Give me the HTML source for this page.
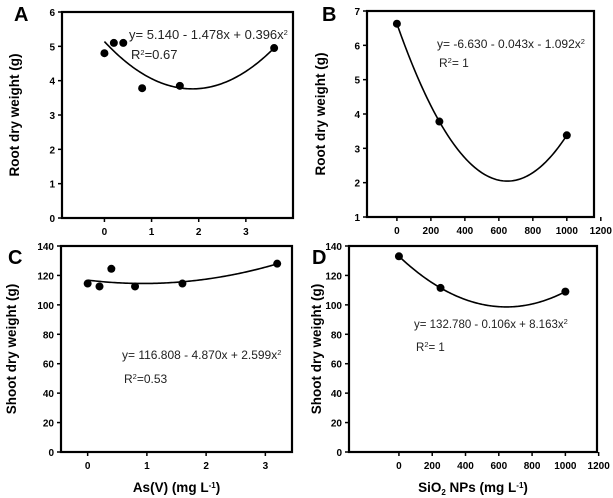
<!DOCTYPE html>
<html><head><meta charset="utf-8"><style>
body{margin:0;background:#fff}
svg{display:block}
text{font-family:"Liberation Sans",Arial,sans-serif;fill:#000}
.tk{font-size:10px;font-weight:bold}
.ttl{font-size:13.5px;font-weight:bold}
.eq{fill:#222}
.let{font-size:20px;font-weight:bold}
</style></head><body>
<svg id="fig" width="613" height="498" viewBox="0 0 613 498"></svg>
<script>
// Panel A data
const aX=[0,0.2,0.4,0.8,1.6,3.6];
const aY=[4.8,5.1,5.1,3.78,3.85,4.95];
const aCoef=[5.140,-1.478,0.396];
const aXTicks=[0,1,2,3];
const aYTicks=[0,1,2,3,4,5,6];
// Panel B data
const bX=[0,250,1000];
const bY=[6.63,3.78,3.38];
const bXTicks=[0,200,400,600,800,1000,1200];
const bYTicks=[1,2,3,4,5,6,7];
// Panel C data
const cX=[0,0.2,0.4,0.8,1.6,3.2];
const cY=[114.5,112.5,124.5,112.5,114.5,128];
const cCoef=[116.808,-4.870,2.599];
const cXTicks=[0,1,2,3];
const cYTicks=[0,20,40,60,80,100,120,140];
// Panel D data
const dX=[0,250,1000];
const dY=[133,111.5,109];
const dXTicks=[0,200,400,600,800,1000,1200];
const dYTicks=[0,20,40,60,80,100,120,140];

const NS="http://www.w3.org/2000/svg";
const svg=document.getElementById('fig');
function mk(tag,attrs,parent){const e=document.createElementNS(NS,tag);for(const k in attrs)e.setAttribute(k,attrs[k]);(parent||svg).appendChild(e);return e;}
function lagr(xs,ys){return x=>{let s=0;for(let i=0;i<xs.length;i++){let p=ys[i];for(let j=0;j<xs.length;j++)if(j!==i)p*=(x-xs[j])/(xs[i]-xs[j]);s+=p;}return s;};}
function poly(c){return x=>c[0]+c[1]*x+c[2]*x*x;}

function panel(o){
  const g=mk('g',{});
  
  
  const sx=v=>o.x0+(v-o.xd[0])/(o.xd[1]-o.xd[0])*(o.x1-o.x0);
  const sy=v=>o.y1-(v-o.yd[0])/(o.yd[1]-o.yd[0])*(o.y1-o.y0);
  const box=mk('rect',{x:o.x0,y:o.y0,width:o.x1-o.x0,height:o.y1-o.y0,fill:'none',stroke:'#000','stroke-width':2.2},g);
  
  
  o.yt.forEach(v=>{const y=sy(v);
    mk('line',{x1:o.x0-4,x2:o.x0,y1:y,y2:y,stroke:'#000','stroke-width':1.5},g);
    const t=mk('text',{x:o.x0-7,y:y+4,'text-anchor':'end',class:'tk'},g);t.textContent=v;
    
    });
  o.xt.forEach(v=>{const x=sx(v);
    mk('line',{x1:x,x2:x,y1:o.y1,y2:o.y1+4,stroke:'#000','stroke-width':1.5},g);
    const t=mk('text',{x:x,y:o.y1+17,'text-anchor':'middle',class:'tk'},g);t.textContent=v;
    
    });
  let d='';const a=o.cx[0],b=o.cx[1];
  for(let i=0;i<=120;i++){const x=a+(b-a)*i/120;d+=(i?'L':'M')+sx(x).toFixed(2)+','+sy(o.f(x)).toFixed(2);}
  const p=mk('path',{d:d,fill:'none',stroke:'#000','stroke-width':1.6},g);
  
  
  o.px.forEach((v,i)=>{const c=mk('circle',{cx:sx(v),cy:sy(o.py[i]),r:4,fill:'#000'},g);
    
    });
  const yl=mk('text',{x:o.ylx,y:(o.y0+o.y1)/2,'text-anchor':'middle',class:'ttl',transform:`rotate(-90 ${o.ylx} ${(o.y0+o.y1)/2})`},g);
  yl.textContent=o.ylab;
  
  
  const l=mk('text',{x:o.lx,y:o.ly,class:'let'},g);l.textContent=o.letter;
  
  
  const e=mk('text',{x:o.ex,y:o.ey,class:'eq','font-size':o.fs+'px'},g);e.innerHTML=o.eq+'<tspan dy="-4" font-size="7.5">2</tspan>';
  
  
  const r=mk('text',{x:o.ex+2,y:o.ry,class:'eq','font-size':o.fs+'px'},g);r.innerHTML='R<tspan dy="-4" font-size="7.5">2</tspan><tspan dy="4">'+o.r2+'</tspan>';
  
  
  if(o.xlab){const xl=mk('text',{x:(o.x0+o.x1)/2,y:492,'text-anchor':'middle',class:'ttl','font-size':'12px'},g);xl.innerHTML=o.xlab;
    
    }
}
panel({name:'panel-a',letter:'A',lx:14,ly:21,x0:62,x1:293,y0:12,y1:218,xd:[-0.9,4.0],yd:[0,6],xt:aXTicks,yt:aYTicks,px:aX,py:aY,f:poly(aCoef),cx:[0,3.6],ylab:'Root dry weight (g)',ylx:19,eq:'y= 5.140 - 1.478x + 0.396x',fs:13,ex:129,ey:39,ry:59,r2:'=0.67'});
panel({name:'panel-b',letter:'B',lx:322,ly:21,x0:367,x1:594,y0:11,y1:217,xd:[-176,1160],yd:[1,7],xt:bXTicks,yt:bYTicks,px:bX,py:bY,f:lagr(bX,bY),cx:[0,1000],ylab:'Root dry weight (g)',ylx:325,eq:'y= -6.630 - 0.043x - 1.092x',fs:12,ex:437,ey:48,ry:67,r2:'= 1'});
panel({name:'panel-c',letter:'C',lx:8,ly:264,x0:61,x1:292,y0:246,y1:452,xd:[-0.45,3.45],yd:[0,140],xt:cXTicks,yt:cYTicks,px:cX,py:cY,f:poly(cCoef),cx:[0,3.2],ylab:'Shoot dry weight (g)',ylx:16,eq:'y= 116.808 - 4.870x + 2.599x',fs:12,ex:122,ey:359,ry:383,r2:'=0.53',xlab:'As(V) (mg L<tspan dy="-4" font-size="8">-1</tspan><tspan dy="4">)</tspan>'});
panel({name:'panel-d',letter:'D',lx:312,ly:264,x0:349,x1:597,y0:246,y1:452,xd:[-300,1190],yd:[0,140],xt:dXTicks,yt:dYTicks,px:dX,py:dY,f:lagr(dX,dY),cx:[0,1000],ylab:'Shoot dry weight (g)',ylx:321,eq:'y= 132.780 - 0.106x + 8.163x',fs:11.5,ex:414,ey:328,ry:351,r2:'= 1',xlab:'SiO<tspan dy="3" font-size="8">2</tspan><tspan dy="-3"> NPs (mg L</tspan><tspan dy="-4" font-size="8">-1</tspan><tspan dy="4">)</tspan>'});
</script>
</body></html>
